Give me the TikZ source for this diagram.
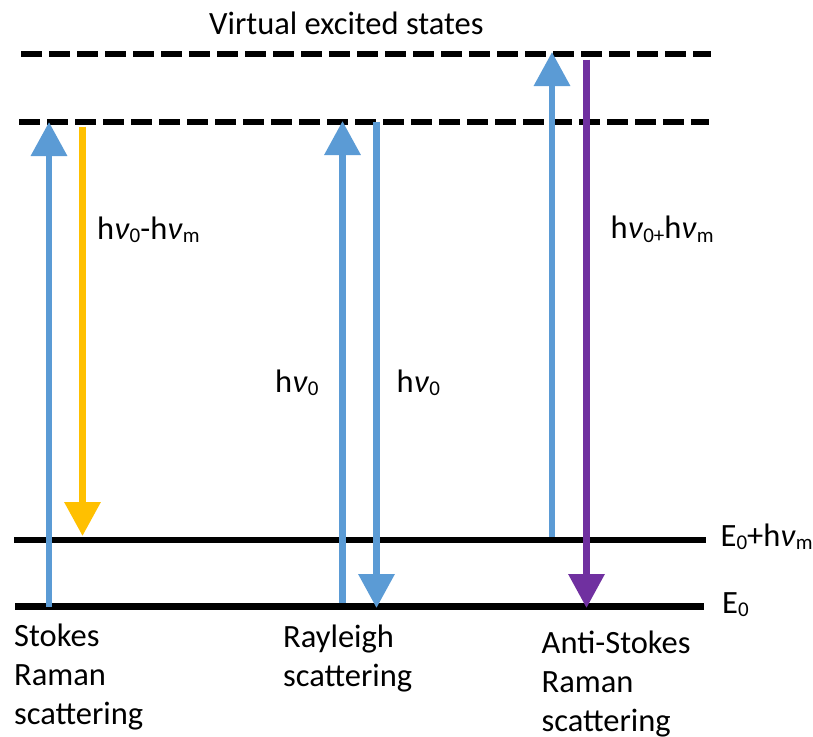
\documentclass[tikz,border=0pt]{standalone}
\usepackage{fontspec}
\setmainfont{Carlito}
\usetikzlibrary{arrows.meta}
\definecolor{pumpblue}{HTML}{5B9BD5}
\definecolor{stokesorange}{HTML}{FFC000}
\definecolor{antipurple}{HTML}{7030A0}
% lowered, smaller index text (subscripts)
\newcommand{\lowidx}[1]{\raisebox{-3.5pt}{\fontsize{21}{21}\selectfont #1}}
\newcommand{\nuit}{\textit{ν}}

\begin{document}
\begin{tikzpicture}[x=1pt,y=-1pt,
  level/.style={line width=6.5pt},
  virtual/.style={line width=6.5pt, dash pattern=on 21pt off 7pt},
  transition/.style={line width=6.5pt, -{Triangle[width=35pt,length=34pt]}},
  txt/.style={font=\fontsize{32.5}{38}\selectfont, inner sep=0pt, anchor=base west}]
\useasboundingbox (0,0) rectangle (813,736);

% energy levels
\coordinate (v1L) at (21,54);    \coordinate (v1R) at (711,54);
\coordinate (v2L) at (19,122);   \coordinate (v2R) at (709,122);
\coordinate (e1L) at (14,540);   \coordinate (e1R) at (706,540);
\coordinate (e0L) at (15,606.5); \coordinate (e0R) at (704,606.5);
\draw[virtual] (v1L) -- (v1R);
\draw[virtual] (v2L) -- (v2R);
\draw[level] (e1L) -- (e1R);
\draw[level] (e0L) -- (e0R);

% transition end points
\coordinate (s0) at (49,607);     \coordinate (s1) at (49,122);
\coordinate (o0) at (82.5,126.5); \coordinate (o1) at (82.5,536);
\coordinate (r0) at (342.5,603);  \coordinate (r1) at (342.5,121);
\coordinate (q0) at (376.5,122);  \coordinate (q1) at (376.5,608);
\coordinate (a0) at (552,537);    \coordinate (a1) at (552,52);
\coordinate (p0) at (586.5,59.5); \coordinate (p1) at (586.5,608);

% transitions
\draw[transition, pumpblue] (s0) -- (s1);
\draw[transition, stokesorange] (o0) -- (o1);
\draw[transition, pumpblue] (r0) -- (r1);
\draw[transition, pumpblue] (q0) -- (q1);
\draw[transition, pumpblue] (a0) -- (a1);
\draw[transition, antipurple] (p0) -- (p1);

% labels
\node[txt] (title) at (209,34.5) {Virtual excited states};
\node[txt] (lstokes) at (97,239) {h\nuit\lowidx{0}-h\nuit\lowidx{m}};
\node[txt] (lanti) at (610.5,238.5) {h\nuit\lowidx{0+}h\nuit\lowidx{m}};
\node[txt] (lray1) at (275,392) {h\nuit\lowidx{0}};
\node[txt] (lray2) at (396.5,392) {h\nuit\lowidx{0}};
\node[txt] (le1) at (720.5,546) {E\lowidx{0}+h\nuit\lowidx{m}};
\node[txt] (le0) at (722,613) {E\lowidx{0}};

\node[txt] (st1) at (14,646) {Stokes};
\node[txt] (st2) at (14,685) {Raman};
\node[txt] (st3) at (14,724) {scattering};
\node[txt] (ry1) at (283,647) {Rayleigh};
\node[txt] (ry2) at (283,686) {scattering};
\node[txt] (as1) at (541.5,653) {Anti-Stokes};
\node[txt] (as2) at (541.5,692) {Raman};
\node[txt] (as3) at (541.5,731) {scattering};
\end{tikzpicture}
\end{document}
